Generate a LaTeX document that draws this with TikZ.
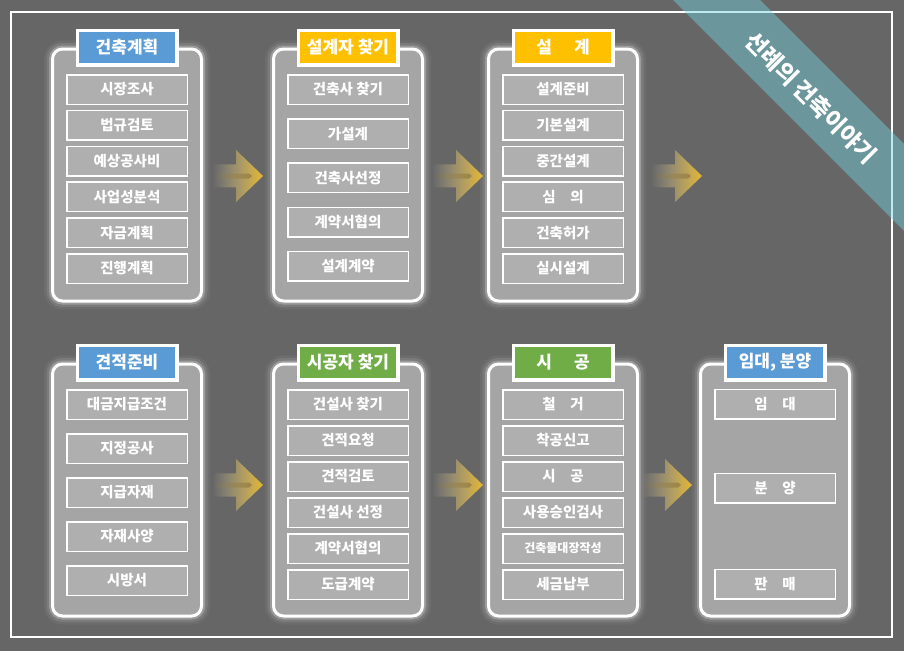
\documentclass[tikz,border=0pt]{standalone}
\usepackage{fontspec}
\setmainfont{Noto Sans CJK KR}
\usetikzlibrary{positioning}
\usetikzlibrary{fadings}
\definecolor{bggray}{RGB}{102,102,102}
\definecolor{panelgray}{RGB}{165,165,165}
\definecolor{itemgray}{RGB}{175,175,175}
\definecolor{hdblue}{RGB}{91,155,213}
\definecolor{hdorange}{RGB}{255,192,0}
\definecolor{hdgreen}{RGB}{112,173,71}
\definecolor{ribbon}{RGB}{111,209,222}
\definecolor{arrowtan}{RGB}{232,220,175}
\definecolor{arrowgold}{RGB}{245,192,40}
\definecolor{arrowline}{RGB}{150,128,70}
\tikzfading[name=fadeleft, left color=transparent!100, right color=transparent!10]
\tikzset{panel/.style={draw=white, line width=3pt, fill=panelgray, rounded corners=10pt,
           minimum width=149pt, minimum height=252pt,
           preaction={draw=white, line width=17pt, opacity=.05},
           preaction={draw=white, line width=12pt, opacity=.1},
           preaction={draw=white, line width=7pt, opacity=.25}},
         header/.style={draw=white, line width=3.5pt, minimum width=99.5pt, minimum height=34.5pt,
           inner sep=0pt, text=white, font=\fontsize{17}{17}\selectfont\bfseries},
         item/.style={draw=white, line width=1.5pt, fill=itemgray, minimum width=120.5pt,
           minimum height=29.5pt, inner sep=0pt, text=white, font=\fontsize{14.5}{15}\selectfont\bfseries},
         }
% items of one panel, stacked under its header
\newcommand{\itemcol}[3]{%
  \foreach \t [count=\i, remember=\i as \j (initially 0)] in {#3} {
    \ifnum\i=1
      \node[item, below=7.5pt of #1h] (#1-\i) {\t};
    \else
      \node[item, below=#2 of #1-\j] (#1-\i) {\t};
    \fi
  }}
% fat arrow, tip at (#1,#2)
\newcommand{\flowarrow}[2]{%
  \begin{scope}[shift={(#1,#2)}]
    \shade[left color=arrowtan, middle color=arrowtan, right color=arrowgold, path fading=fadeleft]
      (-51,-11.5) -- (-27,-11.5) -- (-27,-26) -- (0,0) -- (-27,26) -- (-27,11.5) -- (-51,11.5) -- cycle;
    \fill[arrowline, path fading=fadeleft]
      (-51,-2.5) -- (-14,-2.5) -- (-11,0) -- (-14,2.5) -- (-51,2.5) -- cycle;
  \end{scope}}
\begin{document}
\begin{tikzpicture}[x=1pt, y=-1pt]
\useasboundingbox (0,0) rectangle (904,651);
\fill[bggray] (0,0) rectangle (904,651);
\draw[white, line width=2pt] (11,12) rectangle (892,637);
\fill[ribbon, opacity=.45] (673,0) -- (760,0) -- (904,144) -- (904,231) -- cycle;
\node[rotate=-45, inner sep=0pt, text=white, font=\fontsize{23}{23}\selectfont\bfseries] (title) at (811,98) {선례의 건축이야기};

% top row
\node[panel] (p1) at (127,175) {};
\node[panel] (p2) at (348,175) {};
\node[panel] (p3) at (563,175) {};
% bottom row
\node[panel] (p4) at (127,490) {};
\node[panel] (p5) at (348,490) {};
\node[panel] (p6) at (563,490) {};
\node[panel] (p7) at (775,490) {};

\node[header, fill=hdblue] (p1h) at (p1.north) {건축계획};
\node[header, fill=hdorange] (p2h) at (p2.north) {설계자 찾기};
\node[header, fill=hdorange] (p3h) at (p3.north) {설\hspace{1.3em}계};
\node[header, fill=hdblue] (p4h) at (p4.north) {견적준비};
\node[header, fill=hdgreen] (p5h) at (p5.north) {시공자 찾기};
\node[header, fill=hdgreen] (p6h) at (p6.north) {시\hspace{1.3em}공};
\node[header, fill=hdblue] (p7h) at (p7.north) {임대, 분양};

\itemcol{p1}{4.8pt}{시장조사,법규검토,예상공사비,사업성분석,자금계획,진행계획}
\itemcol{p2}{13.2pt}{건축사 찾기,가설계,건축사선정,계약서협의,설계계약}
\itemcol{p3}{4.8pt}{설계준비,기본설계,중간설계,심\hspace{1em}의,건축허가,실시설계}
\itemcol{p4}{13pt}{대금지급조건,지정공사,지급자재,자재사양,시방서}
\itemcol{p5}{5pt}{건설사 찾기,견적요청,견적검토,건설사 선정,계약서협의,도급계약}
\itemcol{p6}{5pt}{철\hspace{1em}거,착공신고,시\hspace{1em}공,사용승인검사,{\fontsize{12}{12}\selectfont 건축물대장작성},세금납부}
\node[item, below=7pt of p7h] (p7-1) {임\hspace{1em}대};
\node[item, below=53pt of p7-1] (p7-2) {분\hspace{1em}양};
\node[item, below=65pt of p7-2] (p7-3) {판\hspace{1em}매};

\foreach \x/\y in {263/176,483/176,702/176,263/485,483/485,692/485}
  \flowarrow{\x}{\y};
\end{tikzpicture}
\end{document}
